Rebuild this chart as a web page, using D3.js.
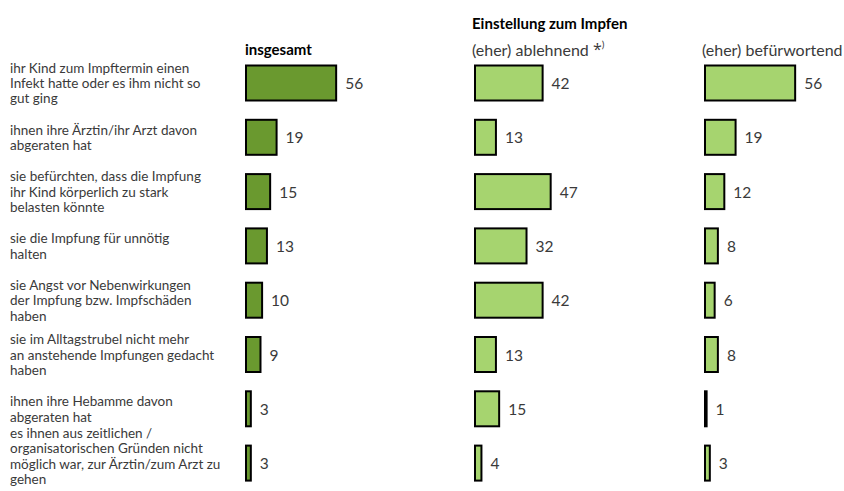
<!DOCTYPE html>
<html><head><meta charset="utf-8">
<script src="https://cdn.jsdelivr.net/npm/d3@7"></script>
<style>body{margin:0;background:#fff}svg{display:block}</style>
</head><body><div id="chart"></div>
<script>
const categories = [
  ["ihr Kind zum Impftermin einen", "Infekt hatte oder es ihm nicht so", "gut ging"],
  ["ihnen ihre Ärztin/ihr Arzt davon", "abgeraten hat"],
  ["sie befürchten, dass die Impfung", "ihr Kind körperlich zu stark", "belasten könnte"],
  ["sie die Impfung für unnötig", "halten"],
  ["sie Angst vor Nebenwirkungen", "der Impfung bzw. Impfschäden", "haben"],
  ["sie im Alltagstrubel nicht mehr", "an anstehende Impfungen gedacht", "haben"],
  ["ihnen ihre Hebamme davon", "abgeraten hat"],
  ["es ihnen aus zeitlichen /", "organisatorischen Gründen nicht", "möglich war, zur Ärztin/zum Arzt zu", "gehen"]
];
const insgesamt = [56, 19, 15, 13, 10, 9, 3, 3];
const ablehnend = [42, 13, 47, 32, 42, 13, 15, 4];
const befuerwortend = [56, 19, 12, 8, 6, 8, 1, 3];
const panelTitles = ["insgesamt", "(eher) ablehnend", "(eher) befürwortend"];
const groupTitle = "Einstellung zum Impfen";

const W = 844, H = 491;
const svg = d3.select("#chart").append("svg").attr("width", W).attr("height", H);

const y = d3.scaleBand().domain(d3.range(categories.length)).range([64.5, 481.6]).paddingInner(0.3186).paddingOuter(0);
const x = d3.scaleLinear().domain([0, 100]).range([0, 161]);
const panelX = [246, 475, 705];
const colors = ["#6a992f", "#a6d46f", "#a6d46f"];
const series = [insgesamt, ablehnend, befuerwortend];

const font = "Lato, 'Open Sans', sans-serif";
const lh = 15.4;

// category labels
categories.forEach((lines, i) => {
  const cy = y(i) + y.bandwidth() / 2;
  let top = cy - (lines.length - 1) * lh / 2;
  const maxTop = H - 12 - (lines.length - 1) * lh;
  top = Math.min(top, maxTop);
  const t = svg.append("text").attr("x", 10).attr("font-family", font).attr("font-size", 13.5)
    .attr("fill", "#3a3a3a");
  lines.forEach((ln, k) => {
    t.append("tspan").attr("x", 10).attr("y", top + k * lh).attr("dominant-baseline", "central").text(ln);
  });
});

// bars
series.forEach((vals, s) => {
  const g = svg.append("g").attr("transform", `translate(${panelX[s]},0)`);
  g.selectAll("rect").data(vals).join("rect")
    .attr("x", 0).attr("y", (d, i) => y(i) + 1)
    .attr("width", d => x(d)).attr("height", y.bandwidth() - 2)
    .attr("fill", colors[s]).attr("stroke", "#000").attr("stroke-width", 2);
  g.selectAll("text.v").data(vals).join("text").attr("class", "v")
    .attr("x", d => x(d) + 9).attr("y", (d, i) => y(i) + y.bandwidth() / 2)
    .attr("dominant-baseline", "central")
    .attr("font-family", font).attr("font-size", 15.5).attr("fill", "#3a3a3a")
    .text(d => d);
});

// headers
svg.append("text").attr("x", panelX[1] - 3).attr("y", 23).attr("dominant-baseline", "central")
  .attr("font-family", font).attr("font-size", 15).attr("font-weight", "bold").attr("fill", "#000")
  .text(groupTitle);
svg.append("text").attr("x", panelX[0] - 1).attr("y", 49).attr("dominant-baseline", "central")
  .attr("font-family", font).attr("font-size", 15).attr("font-weight", "bold").attr("fill", "#000")
  .text(panelTitles[0]);
const t2 = svg.append("text").attr("x", panelX[1] - 3).attr("y", 49).attr("dominant-baseline", "central")
  .attr("font-family", font).attr("font-size", 16).attr("fill", "#3a3a3a").text(panelTitles[1] + " ");
t2.append("tspan").attr("font-family", "'Open Sans', sans-serif").attr("font-size", 16).text("*");
t2.append("tspan").attr("font-size", 10).attr("dy", -5).text(")");
svg.append("text").attr("x", panelX[2] - 3).attr("y", 49).attr("dominant-baseline", "central")
  .attr("font-family", font).attr("font-size", 16).attr("fill", "#3a3a3a").text(panelTitles[2]);
</script></body></html>
